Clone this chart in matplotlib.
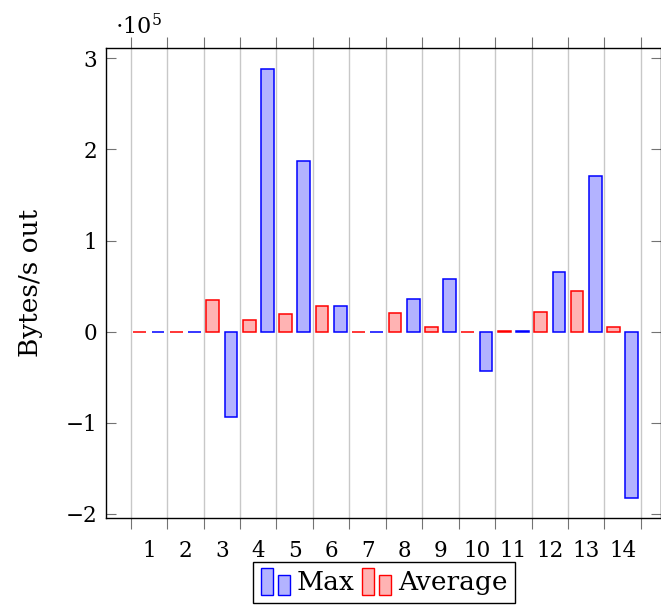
import matplotlib
matplotlib.use("Agg")
import matplotlib.pyplot as plt
from matplotlib.patches import Rectangle
from matplotlib.legend_handler import HandlerBase
import numpy as np

categories = list(range(1, 15))
max_vals = [0.0, 0.0, -0.935, 2.88, 1.87, 0.285, 0.0, 0.355, 0.575, -0.428, 0.005, 0.66, 1.707, -1.825]
avg_vals = [0.0, 0.0, 0.344, 0.123, 0.196, 0.278, 0.0, 0.21, 0.053, -0.008, 0.005, 0.22, 0.45, 0.05]
tick_labels = [str(c) for c in categories]

plt.rcParams['font.family'] = ['DejaVu Serif']
plt.rcParams['mathtext.fontset'] = 'dejavuserif'

blue_face = '#b3b3ff'
blue_edge = '#0000ff'
red_face = '#ffb3b3'
red_edge = '#ff0000'

fig = plt.figure(figsize=(6.61, 6.07), dpi=100)
ax = fig.add_axes([0.16, 0.1466, 0.8393, 0.7738])

x = np.array(categories, dtype=float)
w = 0.35
off = 0.25
ax.bar(x - off, avg_vals, width=w, color=red_face, edgecolor=red_edge, linewidth=1.1, zorder=3)
ax.bar(x + off, max_vals, width=w, color=blue_face, edgecolor=blue_edge, linewidth=1.1, zorder=3)

ax.set_xlim(-0.186, 15.04)
ax.set_ylim(-2.045, 3.11)

# grid/tick lines between categories
ax.set_xticks(np.arange(0.5, 15.0, 1.0))
ax.set_xticklabels([])
ax.set_xticks(x, minor=True)
ax.set_xticklabels(tick_labels, minor=True)
ax.tick_params(axis='x', which='major', direction='out', length=8, width=0.8,
               color='0.45', top=True, bottom=True)
ax.tick_params(axis='x', which='minor', length=0, pad=16, labelsize=15.5)
ax.grid(axis='x', which='major', color='#c8c8c8', linewidth=1.0, zorder=0)

ax.set_yticks([-2, -1, 0, 1, 2, 3])
ax.tick_params(axis='y', direction='in', length=7, width=0.8, color='0.45',
               left=True, right=True, labelsize=15.5, pad=6)

for s in ax.spines.values():
    s.set_linewidth(1.0)
    s.set_color('black')

ax.set_ylabel('Bytes/s out', fontsize=19, labelpad=16)
ax.text(0.017, 1.03, r'$\cdot 10^{5}$', transform=ax.transAxes, fontsize=16,
        ha='left', va='baseline')


class TwoBarHandler(HandlerBase):
    def __init__(self, face, edge):
        super().__init__()
        self.face = face
        self.edge = edge

    def create_artists(self, legend, orig_handle, xdescent, ydescent, width,
                       height, fontsize, trans):
        bw = width * 0.42
        r1 = Rectangle((-xdescent, -ydescent - 0.25 * height), bw, height * 1.45,
                       facecolor=self.face, edgecolor=self.edge, linewidth=1.0,
                       transform=trans)
        r2 = Rectangle((-xdescent + width * 0.58, -ydescent - 0.25 * height), bw,
                       height * 1.05, facecolor=self.face, edgecolor=self.edge,
                       linewidth=1.0, transform=trans)
        return [r1, r2]


h_max = Rectangle((0, 0), 1, 1)
h_avg = Rectangle((0, 0), 1, 1)
leg = ax.legend([h_max, h_avg], ['Max', 'Average'],
                handler_map={h_max: TwoBarHandler(blue_face, blue_edge),
                             h_avg: TwoBarHandler(red_face, red_edge)},
                loc='upper center', bbox_to_anchor=(0.5016, -0.0937), ncol=2,
                fontsize=19, frameon=True, fancybox=False, edgecolor='black',
                framealpha=1, handlelength=1.1, handletextpad=0.25,
                columnspacing=0.3, borderpad=0.3, borderaxespad=0)
leg.get_frame().set_linewidth(1.0)

fig.savefig('out.png', dpi=100)
